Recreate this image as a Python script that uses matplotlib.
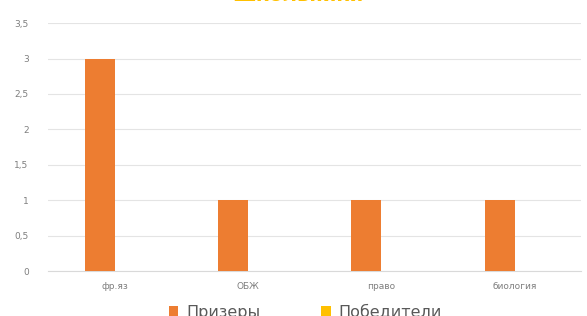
import numpy as np
import matplotlib.pyplot as plt

categories = ['фр.яз', 'ОБЖ', 'право', 'биология']
prizers = [3, 1, 1, 1]
winners = [0, 0, 0, 0]
series_names = ['Призеры', 'Победители']
title = 'Школьники'

orange = '#ED7D31'
yellow = '#FFC000'
grey_text = '#7f7f7f'

fig = plt.figure(figsize=(5.87, 3.16), dpi=100)
ax = fig.add_axes([0.082, 0.142, 0.908, 0.785])

x = np.arange(len(categories))
w = 0.225
ax.bar(x - w / 2, prizers, w, color=orange, label=series_names[0], zorder=3)
ax.bar(x + w / 2, winners, w, color=yellow, label=series_names[1], zorder=3)

ax.set_xlim(-0.5, len(categories) - 0.5)
ax.set_ylim(0, 3.5)
yt = np.arange(0, 3.51, 0.5)
ax.set_yticks(yt)
ax.set_yticklabels([f'{v:g}'.replace('.', ',') for v in yt])
ax.set_xticks(x)
ax.set_xticklabels(categories)
ax.tick_params(axis='both', length=0, labelsize=6.5, colors=grey_text)
ax.tick_params(axis='y', pad=14)
ax.tick_params(axis='x', pad=8)
ax.grid(axis='y', color='#e4e4e4', linewidth=0.8, zorder=0)
for s in ['top', 'right', 'left']:
    ax.spines[s].set_visible(False)
ax.spines['bottom'].set_color('#d9d9d9')

# title is mostly cut off at the top edge, as in the source screenshot
fig.text(0.508, 1.015, title, ha='center', va='center', fontsize=14,
         color=yellow, fontweight='bold')

fig.legend(loc='center', bbox_to_anchor=(0.52, 0.012), ncol=2, frameon=False,
           fontsize=11.5, handlelength=0.6, handleheight=0.6, handletextpad=0.5,
           columnspacing=3.8, labelcolor='#595959')

plt.savefig('out.png', dpi=100)
